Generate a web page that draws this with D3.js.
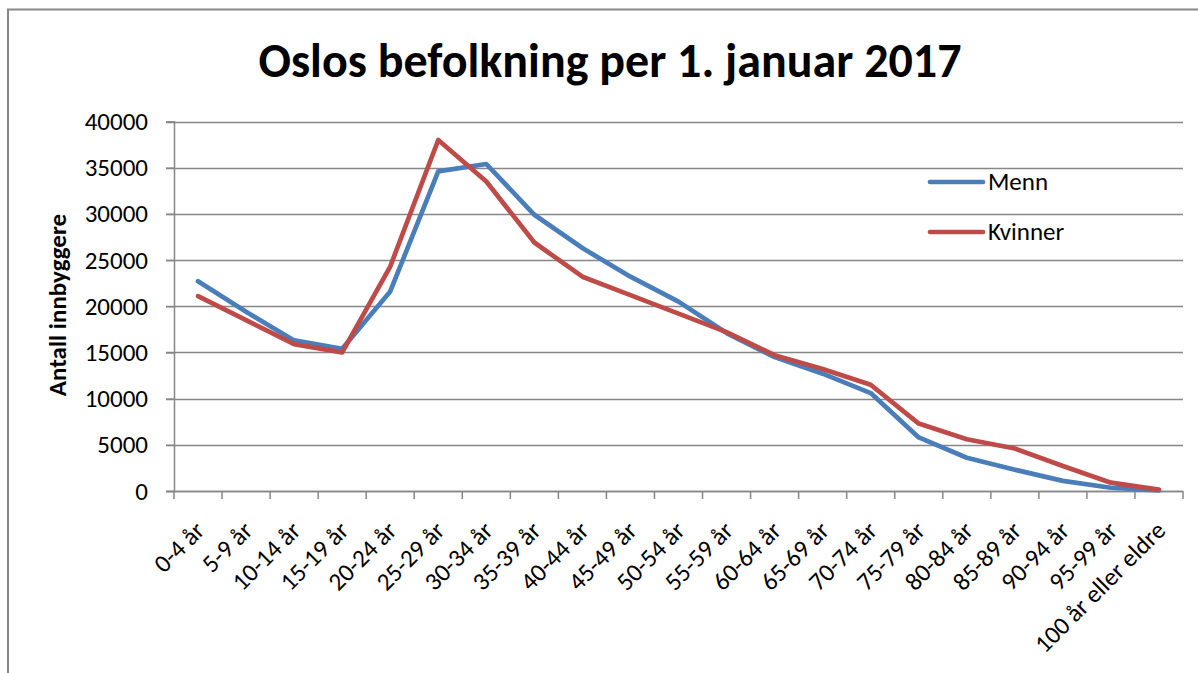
<!DOCTYPE html>
<html lang="no">
<head>
<meta charset="utf-8">
<script src="https://cdn.jsdelivr.net/npm/d3@7"></script>
<style>
  html, body { margin: 0; padding: 0; background: #fff; }
  svg { display: block; }
  text { font-family: Carlito, "Liberation Sans", Arial, sans-serif; fill: #000; }
</style>
</head>
<body>
<svg id="chart" width="1198" height="673"></svg>
<script>
// Aldersgrupper
const categories = [
  "0-4 år", "5-9 år", "10-14 år", "15-19 år", "20-24 år", "25-29 år",
  "30-34 år", "35-39 år", "40-44 år", "45-49 år", "50-54 år", "55-59 år",
  "60-64 år", "65-69 år", "70-74 år", "75-79 år", "80-84 år", "85-89 år",
  "90-94 år", "95-99 år", "100 år eller eldre"
];

// Antall innbyggere per aldersgruppe
const menn = [
  22700, 19400, 16300, 15400, 21600, 34600, 35400, 29900, 26300, 23200,
  20500, 17100, 14500, 12700, 10600, 5800, 3600, 2300, 1100, 350, 60
];
const kvinner = [
  21100, 18500, 15900, 15000, 24300, 38000, 33500, 26900, 23200, 21200,
  19200, 17200, 14700, 13200, 11500, 7300, 5600, 4600, 2700, 900, 150
];

const seriesNames = ["Menn", "Kvinner"];
const seriesColors = ["#4A7EBB", "#BE4B48"];
const yTicks = [0, 5000, 10000, 15000, 20000, 25000, 30000, 35000, 40000];

const svg = d3.select("#chart");
const gridColor = "#878787";
const labelFont = "Carlito, 'Liberation Sans', Arial, sans-serif";

const plot = { left: 174, right: 1183, top: 121.5, bottom: 491 };

const x = d3.scaleBand()
  .domain(categories)
  .range([plot.left, plot.right])
  .paddingInner(0)
  .paddingOuter(0);

const y = d3.scaleLinear()
  .domain([0, 40000])
  .range([plot.bottom, plot.top]);

// Ramme (venstre og topp)
svg.append("path")
  .attr("d", `M8,673V9.5H1198`)
  .attr("fill", "none")
  .attr("stroke", gridColor)
  .attr("stroke-width", 2);

// Tittel
svg.append("text")
  .attr("x", 610)
  .attr("y", 77)
  .attr("text-anchor", "middle")
  .style("font-size", "48px")
  .style("font-weight", "bold")
  .text("Oslos befolkning per 1. januar 2017");

// Horisontale rutenettlinjer
svg.append("g")
  .selectAll("line")
  .data(yTicks)
  .join("line")
  .attr("x1", plot.left - 8)
  .attr("x2", plot.right)
  .attr("y1", d => Math.round(y(d)) + 0.5)
  .attr("y2", d => Math.round(y(d)) + 0.5)
  .attr("stroke", gridColor)
  .attr("stroke-width", 1.5);

// Y-akse
const yAxis = svg.append("g")
  .attr("transform", `translate(${plot.left},0)`)
  .call(d3.axisLeft(y).tickValues(yTicks).tickFormat(d3.format("d")).tickSize(8).tickPadding(18));
yAxis.select(".domain").attr("stroke", gridColor).attr("stroke-width", 1.5);
yAxis.selectAll(".tick line").attr("stroke", gridColor).attr("stroke-width", 1.5);
yAxis.selectAll(".tick text")
  .style("font-size", "25px")
  .style("font-family", labelFont)
  .attr("fill", "#000");

// X-akse: etiketter
const xAxis = svg.append("g")
  .attr("transform", `translate(0,${plot.bottom})`)
  .call(d3.axisBottom(x).tickSize(0).tickPadding(0));
xAxis.select(".domain").remove();
xAxis.selectAll(".tick text")
  .style("font-size", "25px")
  .style("font-family", labelFont)
  .attr("fill", "#000")
  .attr("text-anchor", "end")
  .attr("dy", 0)
  .attr("y", 0)
  .attr("transform", "translate(8,41) rotate(-45)");

// X-akse: linje og skillemerker mellom kategoriene
const boundaries = categories.map(c => x(c)).concat([plot.right]);
svg.append("line")
  .attr("x1", plot.left).attr("x2", plot.right)
  .attr("y1", Math.round(y(0)) + 0.5).attr("y2", Math.round(y(0)) + 0.5)
  .attr("stroke", gridColor).attr("stroke-width", 1.5);
svg.append("g")
  .selectAll("line")
  .data(boundaries)
  .join("line")
  .attr("x1", d => d).attr("x2", d => d)
  .attr("y1", plot.bottom).attr("y2", plot.bottom + 8)
  .attr("stroke", gridColor)
  .attr("stroke-width", 1.5);

// Linjer
const line = d3.line()
  .x((d, i) => x(categories[i]) + x.bandwidth() / 2)
  .y(d => y(d));

[menn, kvinner].forEach((values, k) => {
  svg.append("path")
    .datum(values)
    .attr("d", line)
    .attr("fill", "none")
    .attr("stroke", seriesColors[k])
    .attr("stroke-width", 4.7)
    .attr("stroke-linejoin", "round")
    .attr("stroke-linecap", "round");
});

// Y-aksetittel
svg.append("text")
  .attr("transform", "translate(66,305) rotate(-90)")
  .attr("text-anchor", "middle")
  .style("font-size", "25px")
  .style("font-weight", "bold")
  .text("Antall innbyggere");

// Tegnforklaring
const legend = svg.append("g");
seriesNames.forEach((name, k) => {
  const ly = 182 + k * 50;
  legend.append("line")
    .attr("x1", 930).attr("x2", 983)
    .attr("y1", ly).attr("y2", ly)
    .attr("stroke", seriesColors[k])
    .attr("stroke-width", 4.7)
    .attr("stroke-linecap", "round");
  legend.append("text")
    .attr("x", 988)
    .attr("y", ly + 8)
    .style("font-size", "25px")
    .text(name);
});
</script>
</body>
</html>
